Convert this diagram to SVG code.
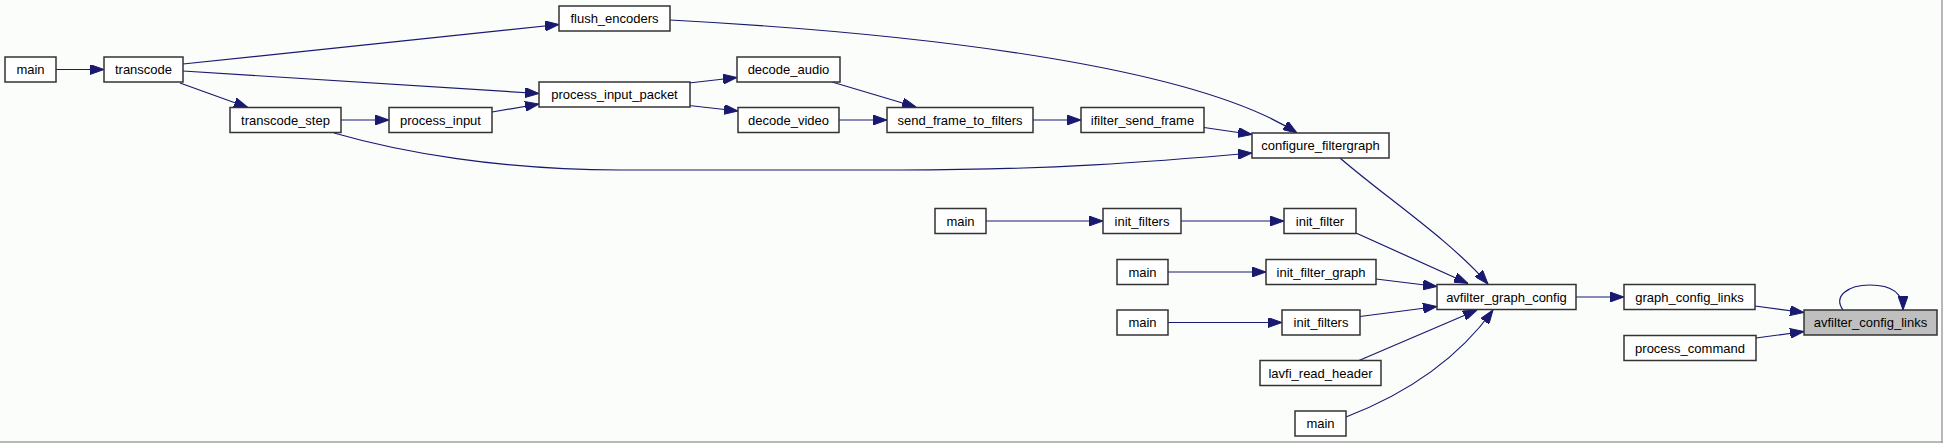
<svg xmlns="http://www.w3.org/2000/svg" width="1943" height="443" viewBox="0 0 1943 443">
<style>
.n rect{fill:#ffffff;stroke:#333333;stroke-width:1.5}
.n.hl rect{fill:#bfbfbf}
.n text{font-family:"Liberation Sans",Arial,sans-serif;font-size:13px;fill:#000;text-anchor:middle}
.e path{fill:none;stroke:#191970;stroke-width:1.2;marker-end:url(#ah)}
</style>
<defs>
<marker id="ah" markerUnits="userSpaceOnUse" markerWidth="14" markerHeight="10" refX="14" refY="5" orient="auto" viewBox="0 0 14 10">
<path d="M0,0 L14,5 L0,10 z" fill="#191970" stroke="#191970" stroke-width="1"/>
</marker>
</defs>
<rect x="0" y="0" width="1943" height="443" fill="#fbfdfb"/>
<line x1="0" y1="442" x2="1943" y2="442" stroke="#a0a0a0" stroke-width="1.5"/>
<line x1="1942" y1="0" x2="1942" y2="443" stroke="#a0a0a0" stroke-width="1.5"/>
<g id="edges" class="e">
<path d="M56,69.5 L104,69.5"/>
<path d="M183,64 L559,24.5"/>
<path d="M183,71 L539,93.5"/>
<path d="M180,83 L248,107.5"/>
<path d="M341,120 L389,120"/>
<path d="M492,112 L539,104"/>
<path d="M334,133 C400,152 500,170 620,170 L900,170 C1050,170 1150,162 1252,153"/>
<path d="M670,20 C950,35 1200,70 1297,133"/>
<path d="M689,83 L737,77.5"/>
<path d="M689,105.5 L738,111"/>
<path d="M832,82 L916,107"/>
<path d="M839,120 L887,120"/>
<path d="M1033,120 L1081,120"/>
<path d="M1204,127.5 L1252,134.5"/>
<path d="M1340,158 C1385,197 1450,240 1488,284"/>
<path d="M986,221 L1103,221"/>
<path d="M1181,221 L1284,221"/>
<path d="M1356,233 L1468,283.5"/>
<path d="M1168,272 L1266,272"/>
<path d="M1376,279 L1437,286.5"/>
<path d="M1168,322.5 L1282,322.5"/>
<path d="M1360,316.5 L1437,306.5"/>
<path d="M1359,360.5 L1477,310"/>
<path d="M1346,417 C1390,400 1450,370 1493,310"/>
<path d="M1576,297 L1624,297"/>
<path d="M1755,306 L1804,312.5"/>
<path d="M1756,338 L1804,331.5"/>
<path d="M1843,310 C1833,296 1848,285 1870,285 C1892,285 1903,294 1903,310"/>
</g>
<g id="main_a" class="n"><rect x="5" y="57" width="51" height="25"/><text x="30.5" y="74">main</text></g>
<g id="transcode" class="n"><rect x="104" y="57" width="79" height="25"/><text x="143.5" y="74">transcode</text></g>
<g id="flush_encoders" class="n"><rect x="559" y="6" width="111" height="25"/><text x="614.5" y="23">flush_encoders</text></g>
<g id="process_input_packet" class="n"><rect x="539" y="82" width="151" height="25"/><text x="614.5" y="99">process_input_packet</text></g>
<g id="transcode_step" class="n"><rect x="230" y="107.5" width="111" height="25"/><text x="285.5" y="124.5">transcode_step</text></g>
<g id="process_input" class="n"><rect x="389" y="107.5" width="103" height="25"/><text x="440.5" y="124.5">process_input</text></g>
<g id="decode_audio" class="n"><rect x="737" y="57" width="103" height="25"/><text x="788.5" y="74">decode_audio</text></g>
<g id="decode_video" class="n"><rect x="738" y="107.5" width="101" height="25"/><text x="788.5" y="124.5">decode_video</text></g>
<g id="send_frame_to_filters" class="n"><rect x="887" y="107.5" width="146" height="25"/><text x="960" y="124.5">send_frame_to_filters</text></g>
<g id="ifilter_send_frame" class="n"><rect x="1081" y="107.5" width="123" height="25"/><text x="1142.5" y="124.5">ifilter_send_frame</text></g>
<g id="configure_filtergraph" class="n"><rect x="1252" y="133" width="137" height="25"/><text x="1320.5" y="150">configure_filtergraph</text></g>
<g id="main_b" class="n"><rect x="935" y="208.5" width="51" height="25"/><text x="960.5" y="225.5">main</text></g>
<g id="init_filters_a" class="n"><rect x="1103" y="208.5" width="78" height="25"/><text x="1142" y="225.5">init_filters</text></g>
<g id="init_filter" class="n"><rect x="1284" y="208.5" width="72" height="25"/><text x="1320" y="225.5">init_filter</text></g>
<g id="main_c" class="n"><rect x="1117" y="259.5" width="51" height="25"/><text x="1142.5" y="276.5">main</text></g>
<g id="init_filter_graph" class="n"><rect x="1266" y="259.5" width="110" height="25"/><text x="1321" y="276.5">init_filter_graph</text></g>
<g id="avfilter_graph_config" class="n"><rect x="1437" y="284.5" width="139" height="25"/><text x="1506.5" y="301.5">avfilter_graph_config</text></g>
<g id="graph_config_links" class="n"><rect x="1624" y="284.5" width="131" height="25"/><text x="1689.5" y="301.5">graph_config_links</text></g>
<g id="avfilter_config_links" class="n hl"><rect x="1804" y="310" width="133" height="25"/><text x="1870.5" y="327">avfilter_config_links</text></g>
<g id="main_d" class="n"><rect x="1117" y="310" width="51" height="25"/><text x="1142.5" y="327">main</text></g>
<g id="init_filters_b" class="n"><rect x="1282" y="310" width="78" height="25"/><text x="1321" y="327">init_filters</text></g>
<g id="process_command" class="n"><rect x="1624" y="335.5" width="132" height="25"/><text x="1690" y="352.5">process_command</text></g>
<g id="lavfi_read_header" class="n"><rect x="1260" y="360.5" width="121" height="25"/><text x="1320.5" y="377.5">lavfi_read_header</text></g>
<g id="main_e" class="n"><rect x="1295" y="411" width="51" height="25"/><text x="1320.5" y="428">main</text></g>
</svg>
